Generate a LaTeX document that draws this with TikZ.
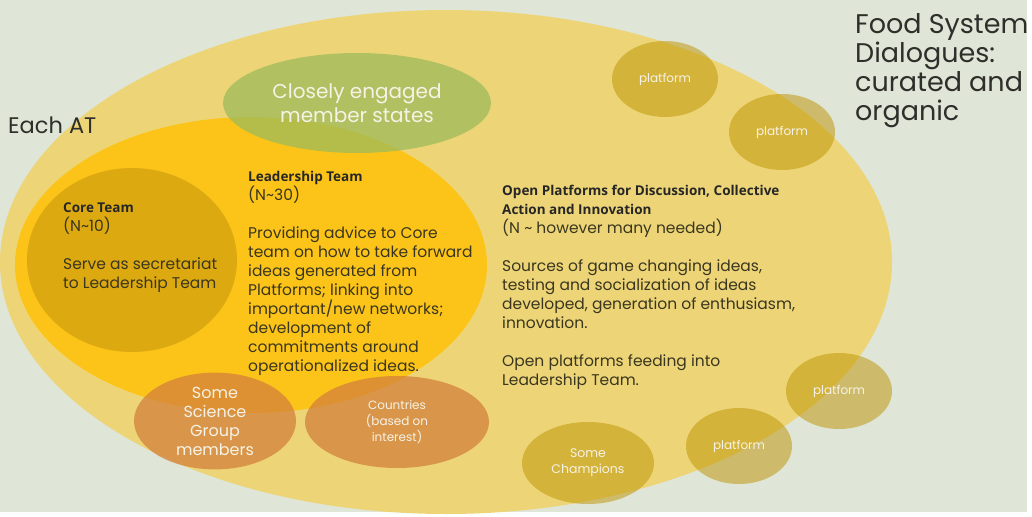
\documentclass[tikz,border=0pt]{standalone}
\usepackage{fontspec}
\setmainfont{Poppins}
\newfontfamily\headfont{Open Sans}
\usetikzlibrary{shapes.geometric,positioning}

\definecolor{bgcol}{HTML}{DFE6D7}
\definecolor{outercol}{HTML}{EDD577}
\definecolor{leadcol}{HTML}{FCC419}
\definecolor{corecol}{HTML}{DCA910}
\definecolor{greencol}{RGB}{157,187,91}
\definecolor{orangecol}{RGB}{211,129,59}
\definecolor{platcol}{RGB}{189,146,0}
\definecolor{darktext}{HTML}{2E2E2A}
\definecolor{bodytext}{HTML}{3A361F}
\definecolor{lighttext}{HTML}{F6F2E6}

\newcommand{\headline}[1]{{\headfont\bfseries\fontsize{13.5}{19}\selectfont\color{black!85}#1}}

\tikzset{
    blob/.style={ellipse, inner sep=0pt, align=center},
    seethrough/.style={blob, fill=#1, fill opacity=0.75, text opacity=1, text=lighttext},
    platform/.style={blob, fill=platcol, fill opacity=0.5, text opacity=1, text=lighttext,
        font=\fontsize{12}{16}\selectfont, minimum width=106, minimum height=76},
    body/.style={anchor=base west, align=left, inner sep=0pt, text=bodytext,
        font=\fontsize{15.5}{19}\selectfont}
}

\begin{document}
\begin{tikzpicture}[x=1pt,y=-1pt]
        \useasboundingbox (0,0) rectangle (1032,516);
        \fill[white] (0,0) rectangle (1032,516);
        \fill[bgcol] (0,0) rectangle (1027,512);
        % nested circles
        \node[blob, fill=outercol, minimum width=892, minimum height=504] (dialogues) at (446,262) {};
        \node[blob, fill=leadcol, minimum width=472, minimum height=296] (leadership) at (251,265) {};
        \node[blob, fill=corecol, minimum width=210, minimum height=184] (core) at (132,260) {};
        \node[seethrough=greencol, minimum width=268, minimum height=100,
            font=\fontsize{20}{24}\selectfont] (member) at (357,103) {Closely engaged\\member states};
        \node[seethrough=orangecol, minimum width=162, minimum height=84,
            font=\fontsize{16}{19}\selectfont] (science) at (215,421) {Some\\Science\\Group\\members};
        \node[seethrough=orangecol, minimum width=184, minimum height=92,
            font=\fontsize{12}{16}\selectfont] (countries) at (397,422) {Countries\\(based on\\interest)};
        % platforms
        \foreach \p/\xy in {pa/{(665,79)}, pb/{(782,132)}, pc/{(839,391)}, pd/{(739,446)}}{
            \node[platform] (\p) at \xy {platform};
        }
        \node[platform, minimum width=132, minimum height=82, font=\fontsize{12.5}{16}\selectfont]
            (champions) at (588,463) {Some\\Champions};
        % titles (base = last line)
        \node[anchor=base west, inner sep=0pt, text=darktext, font=\fontsize{22.5}{25}\selectfont]
            (eachat) at (8,133) {Each AT};
        \node[anchor=base west, align=left, inner sep=0pt, text=darktext, font=\fontsize{27}{29}\selectfont]
            (fsd) at (855,121) {Food System\\Dialogues:\\curated and\\organic};
        % team texts
        \node[body] (coretext) at (63,288) {\headline{Core Team}\\(N\textasciitilde10)\\[19pt]Serve as secretariat\\to Leadership Team};
        \node[body] (leadtext) at (248,371) {\headline{Leadership Team}\\(N\textasciitilde30)\\[19pt]Providing advice to Core\\team on how to take forward\\ideas generated from\\Platforms; linking into\\important/new networks;\\development of\\commitments around\\operationalized ideas.};
        \node[body] (opentext) at (502,385) {\headline{Open Platforms for Discussion, Collective}\\\headline{Action and Innovation}\\(N \textasciitilde{} however many needed)\\[19pt]Sources of game changing ideas,\\testing and socialization of ideas\\developed, generation of enthusiasm,\\innovation.\\[19pt]Open platforms feeding into\\Leadership Team.};
    \end{tikzpicture}
\end{document}
